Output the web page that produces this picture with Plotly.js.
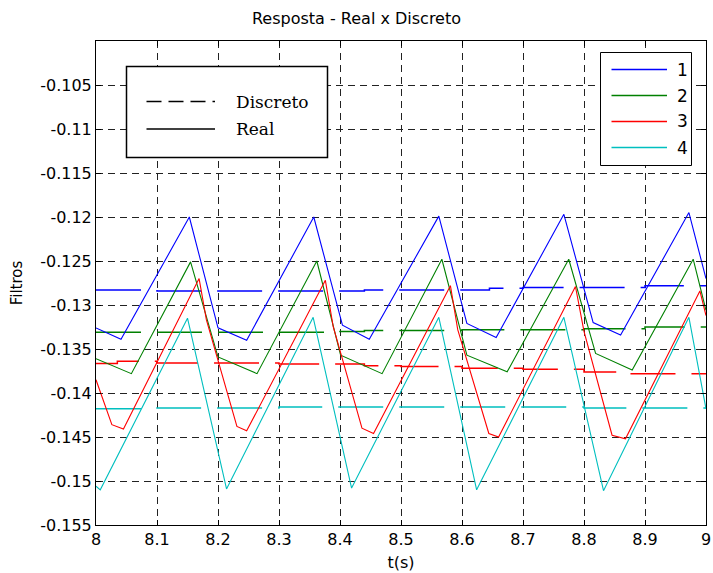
<!DOCTYPE html>
<html>
<head>
<meta charset="utf-8">
<script src="https://cdn.plot.ly/plotly-3.0.1.min.js"></script>
<style>html,body{margin:0;padding:0;background:#fff;}#chart{width:713px;height:573px;}</style>
</head>
<body>
<div id="chart"></div>
<script>
// ---------- data ----------
const seriesNames = ['1', '2', '3', '4'];
const styleNames = ['Discreto', 'Real'];
const seriesColors = ['#0000FF', '#008000', '#FF0000', '#00BFBF'];

// Real (continuous) signals
const realT1 = [8.000, 8.041, 8.153, 8.200, 8.247, 8.357, 8.404, 8.448, 8.562, 8.608, 8.656, 8.767, 8.815, 8.860, 8.972, 9.000];
const realV1 = [-0.1326, -0.1339, -0.1200, -0.1326, -0.1340, -0.1200, -0.1323, -0.1339, -0.1199, -0.1321, -0.1337, -0.1197, -0.1320, -0.1334, -0.1195, -0.1270];

const realT2 = [8.000, 8.058, 8.155, 8.200, 8.264, 8.362, 8.401, 8.469, 8.567, 8.608, 8.674, 8.775, 8.819, 8.879, 8.979, 9.000];
const realV2 = [-0.1361, -0.1378, -0.1251, -0.1359, -0.1378, -0.1250, -0.1357, -0.1378, -0.1248, -0.1357, -0.1376, -0.1248, -0.1355, -0.1374, -0.1248, -0.1306];

const realT3 = [8.000, 8.026, 8.045, 8.169, 8.181, 8.231, 8.247, 8.376, 8.389, 8.436, 8.455, 8.581, 8.593, 8.644, 8.660, 8.786, 8.800, 8.846, 8.868, 8.990, 9.000];
const realV3 = [-0.1385, -0.1436, -0.1441, -0.1270, -0.1317, -0.1438, -0.1443, -0.1272, -0.1325, -0.1440, -0.1446, -0.1278, -0.1328, -0.1446, -0.1450, -0.1279, -0.1330, -0.1448, -0.1452, -0.1284, -0.1312];

const realT4 = [8.000, 8.007, 8.150, 8.214, 8.356, 8.419, 8.562, 8.624, 8.767, 8.832, 8.972, 9.000];
const realV4 = [-0.1506, -0.1510, -0.1315, -0.1509, -0.1314, -0.1508, -0.1314, -0.1510, -0.1314, -0.1511, -0.1314, -0.1418];

// Discrete (held) signals
const discT1 = [8.00, 8.10, 8.20, 8.30, 8.40, 8.44, 8.50, 8.60, 8.645, 8.70, 8.80, 8.90, 9.00];
const discV1 = [-0.1283, -0.1284, -0.1284, -0.1284, -0.1284, -0.1283, -0.1283, -0.1283, -0.1281, -0.1280, -0.1280, -0.1278, -0.1278];

const discT2 = [8.00, 8.10, 8.20, 8.30, 8.40, 8.44, 8.50, 8.60, 8.70, 8.80, 8.90, 9.00];
const discV2 = [-0.1331, -0.1331, -0.1331, -0.1331, -0.1330, -0.1329, -0.1329, -0.1328, -0.1328, -0.1327, -0.1325, -0.1325];

const discT3 = [8.00, 8.035, 8.10, 8.20, 8.30, 8.40, 8.44, 8.50, 8.60, 8.70, 8.80, 8.855, 8.90, 9.00];
const discV3 = [-0.13665, -0.1364, -0.1366, -0.1366, -0.1367, -0.1367, -0.1369, -0.1370, -0.1372, -0.1373, -0.1376, -0.1378, -0.1378, -0.1378];

const discT4 = [8.00, 8.10, 8.20, 8.30, 8.40, 8.50, 8.60, 8.70, 8.80, 8.90, 9.00];
const discV4 = [-0.1418, -0.1417, -0.1417, -0.1416, -0.1416, -0.1416, -0.1416, -0.1416, -0.1417, -0.1417, -0.1417];

const xTickVals = [8, 8.1, 8.2, 8.3, 8.4, 8.5, 8.6, 8.7, 8.8, 8.9, 9];
const xTickText = ['8', '8.1', '8.2', '8.3', '8.4', '8.5', '8.6', '8.7', '8.8', '8.9', '9'];
const yTickVals = [-0.155, -0.15, -0.145, -0.14, -0.135, -0.13, -0.125, -0.12, -0.115, -0.11, -0.105];
const yTickText = ['-0.155', '-0.15', '-0.145', '-0.14', '-0.135', '-0.13', '-0.125', '-0.12', '-0.115', '-0.11', '-0.105'];

// ---------- layout helpers ----------
const W = 713, H = 573;
const M = {l: 96, r: 7, t: 41, b: 48};
const PW = W - M.l - M.r, PH = H - M.t - M.b;
function px(x) { return (x - M.l) / PW; }
function py(y) { return (H - M.b - y) / PH; }

const realT = [realT1, realT2, realT3, realT4];
const realV = [realV1, realV2, realV3, realV4];
const discT = [discT1, discT2, discT3, discT4];
const discV = [discV1, discV2, discV3, discV4];

const traces = [];
for (let i = 0; i < 4; i++) {
  traces.push({
    x: discT[i], y: discV[i], type: 'scatter', mode: 'lines', showlegend: false,
    line: {color: seriesColors[i], width: 1.5, shape: 'hv', dash: '45px,16px'},
    hoverinfo: 'skip'
  });
}
for (let i = 0; i < 4; i++) {
  traces.push({
    x: realT[i], y: realV[i], type: 'scatter', mode: 'lines', showlegend: false,
    name: seriesNames[i],
    line: {color: seriesColors[i], width: 1.1}
  });
}

const shapes = [];
const annotations = [];
// Legend box: style (Discreto / Real)
shapes.push({type: 'rect', xref: 'paper', yref: 'paper', layer: 'above',
  x0: px(126.5), x1: px(327.5), y0: py(157.5), y1: py(66.5),
  line: {color: '#000', width: 1.5}, fillcolor: '#fff'});
const styleDash = ['15px,7px', 'solid'];
const styleY = [101.5, 129];
for (let k = 0; k < 2; k++) {
  shapes.push({type: 'line', xref: 'paper', yref: 'paper', layer: 'above',
    x0: px(146.5), x1: px(215), y0: py(styleY[k]), y1: py(styleY[k]),
    line: {color: '#000', width: 1.5, dash: styleDash[k]}});
  annotations.push({xref: 'paper', yref: 'paper', x: px(234), y: py(styleY[k]),
    xanchor: 'left', yanchor: 'middle', showarrow: false, text: styleNames[k],
    font: {family: 'DejaVu Serif', size: 17, color: '#000'}});
}
// Legend box: series (1..4)
shapes.push({type: 'rect', xref: 'paper', yref: 'paper', layer: 'above',
  x0: px(600.5), x1: px(691.5), y0: py(165.5), y1: py(52.5),
  line: {color: '#000', width: 1}, fillcolor: '#fff'});
const serY = [69.5, 95.5, 121.5, 147.5];
for (let i = 0; i < 4; i++) {
  shapes.push({type: 'line', xref: 'paper', yref: 'paper', layer: 'above',
    x0: px(611.5), x1: px(667), y0: py(serY[i]), y1: py(serY[i]),
    line: {color: seriesColors[i], width: 1.6, dash: 'solid'}});
  annotations.push({xref: 'paper', yref: 'paper', x: px(675), y: py(serY[i]),
    xanchor: 'left', yanchor: 'middle', showarrow: false, text: seriesNames[i],
    font: {family: 'DejaVu Sans', size: 17, color: '#000'}});
}

const axisCommon = {
  showline: true, linecolor: '#000', linewidth: 1, mirror: 'ticks',
  ticks: 'inside', ticklen: 5, tickcolor: '#000', tickwidth: 1,
  showgrid: true, gridcolor: '#222', gridwidth: 1, griddash: '7px,5px',
  zeroline: false, tickfont: {family: 'DejaVu Sans', size: 16, color: '#000'},
  fixedrange: true
};

const layout = {
  width: W, height: H, margin: M, paper_bgcolor: '#fff', plot_bgcolor: '#fff',
  showlegend: false,
  title: {text: 'Resposta - Real x Discreto', x: px(401), xanchor: 'center', y: 1 - 18 / H, yanchor: 'middle',
    font: {family: 'DejaVu Sans', size: 16, color: '#000'}},
  xaxis: Object.assign({}, axisCommon, {range: [8, 9], tickvals: xTickVals, ticktext: xTickText,
    title: {text: 't(s)', font: {family: 'DejaVu Sans', size: 16, color: '#000'}, standoff: 8}}),
  yaxis: Object.assign({}, axisCommon, {range: [-0.155, -0.1], tickvals: yTickVals, ticktext: yTickText,
    title: {text: 'Filtros', font: {family: 'DejaVu Sans', size: 15, color: '#000'}, standoff: 13}}),
  shapes: shapes, annotations: annotations
};

Plotly.newPlot('chart', traces, layout, {displayModeBar: false, staticPlot: true});
</script>
</body>
</html>
